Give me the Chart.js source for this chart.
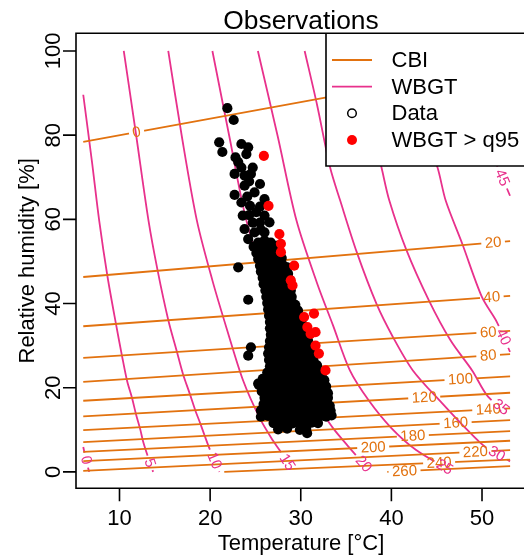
<!DOCTYPE html>
<html>
<head>
<meta charset="utf-8">
<script src="https://cdn.jsdelivr.net/npm/chart.js@4.4.0/dist/chart.umd.min.js"></script>
<style>
  html, body { margin: 0; padding: 0; background: #fff; overflow: hidden; }
</style>
</head>
<body>
<canvas id="chart" width="524" height="559"></canvas>
<script>
// ─── AXES ─────────────────────────────────────────────────────
const xTicks = [10, 20, 30, 40, 50];
const yTicks = [0, 20, 40, 60, 80, 100];

// ─── CBI CONTOURS (temperature °C, humidity %) ───────────────
const cbiLevels = [0, 20, 40, 60, 80, 100, 120, 140, 160, 180, 200, 220, 240, 260];
const cbiLines = [
    [[6.0, 78.4], [32.4, 88.8], [53.1, 96.9]],
    [[6.0, 46.3], [53.1, 54.8]],
    [[6.0, 34.6], [53.1, 41.8]],
    [[6.0, 27.1], [53.1, 33.5]],
    [[6.0, 21.4], [53.1, 28.0]],
    [[6.0, 16.9], [53.1, 22.7]],
    [[6.0, 13.2], [53.1, 18.8]],
    [[6.0, 9.9],  [53.1, 15.1]],
    [[6.0, 7.05], [53.1, 12.3]],
    [[6.0, 4.75], [53.1, 9.7]],
    [[6.0, 2.54], [53.1, 7.4]],
    [[6.0, 0.24], [53.1, 5.15]],
    [[21.56, 0],  [53.1, 2.9]],
    [[39.55, 0],  [53.1, 1.35]],
];
const cbiLabelAt = [
    [11.89, 80.6], [51.23, 54.3], [51.09, 41.26], [50.69, 32.96], [50.69, 27.27],
    [47.63, 21.9], [43.63, 17.4], [50.69, 14.8], [47.09, 11.6], [42.37, 8.47],
    [38.0, 5.55], [49.27, 4.74], [45.27, 2.13], [41.45, 0.19],
];

// ─── WBGT CONTOURS ────────────────────────────────────────────
const wbgtLevels = [0, 5, 10, 15, 20, 25, 30, 35, 40, 45];
const wbgtLines = [
    [[6.0, 5.9], [6.3, 3.0], [6.65, 0]],
    [[6.0, 89.6], [6.95, 73.9], [7.76, 59.7], [8.66, 46.6], [9.64, 34.8], [10.29, 27.4], [10.84, 21.6],
     [11.39, 17.5], [11.82, 13.7], [12.29, 10.1], [12.59, 7.35], [13.02, 4.36], [13.71, 0]],
    [[10.47, 100], [11.85, 79.8], [13.2, 59.7], [14.22, 47.7], [15.38, 36.1], [16.29, 28.9], [17.01, 23.2],
     [17.75, 18.6], [18.37, 14.6], [18.95, 11.3], [19.38, 8.7], [20.0, 5.15], [21.02, 0]],
    [[15.38, 100], [16.87, 79.8], [18.54, 59.7], [20.25, 45.5], [21.89, 33.6], [23.64, 21.7], [25.49, 12.7],
     [26.91, 7.5], [27.75, 4.9], [29.2, 0]],
    [[20.25, 100], [22.11, 79.8], [24.0, 59.7], [26.36, 43.1], [28.11, 32.4], [29.96, 21.7], [31.82, 15.8],
     [33.56, 10.4], [35.31, 5.9], [37.71, 0]],
    [[25.27, 100], [27.45, 79.8], [29.53, 59.7], [31.82, 44.7], [33.56, 34.8], [35.42, 24.1], [37.49, 17.0],
     [40.0, 10.4], [42.73, 5.2], [46.76, 0]],
    [[30.43, 100], [31.82, 87.0], [33.24, 72.3], [34.36, 64.4], [36.18, 52.2], [38.36, 39.9], [40.18, 32.0],
     [42.37, 24.1], [45.64, 16.2], [48.18, 10.4], [50.36, 5.9], [53.09, 2.5]],
    [[35.64, 100], [37.27, 87.0], [38.91, 72.3], [39.78, 64.4], [41.64, 52.8], [44.15, 40.7], [46.54, 31.2],
     [48.91, 24.1], [50.69, 17.8], [53.09, 13.7]],
    [[40.54, 100], [42.73, 87.0], [45.09, 72.3], [46.0, 64.4], [47.82, 54.2], [50.0, 41.5], [51.64, 35.6],
     [53.09, 28.5]],
    [[45.45, 100], [48.18, 88.1], [50.9, 76.3], [52.0, 71.1], [53.09, 65.6]],
];
const wbgtLabelAt = [
    [6.35, 2.8], [13.3, 2.1], [20.5, 2.7], [28.4, 2.1], [36.8, 1.6],
    [45.9, 1.2], [51.63, 4.36], [52.0, 15.1], [52.2, 31.9], [52.33, 70.0],
];

// ─── OBSERVATIONS (temperature °C, humidity %) ───────────────
const obsPoints = [
    [21.9, 86.4], [22.6, 83.6], [21.0, 78.3], [21.35, 76.0], [23.45, 77.9], [24.2, 77.1], [24.0, 75.5],
    [22.8, 74.7], [23.1, 73.6], [23.45, 72.3], [24.7, 72.3], [22.7, 70.8], [23.8, 70.4], [24.5, 70.8],
    [24.3, 69.0], [25.5, 68.4], [23.8, 68.0], [22.7, 65.8], [24.9, 66.4], [24.1, 65.4], [26.0, 64.8],
    [23.45, 64.0], [24.4, 63.2], [25.5, 63.0], [23.6, 60.9], [24.3, 61.0], [25.1, 61.7], [26.0, 60.9],
    [24.7, 59.2], [25.5, 59.2], [26.55, 59.3], [23.8, 57.7], [24.9, 56.9], [25.6, 57.5], [26.0, 56.9],
    [24.2, 55.3], [25.3, 54.5], [26.0, 55.0], [26.7, 54.5],
    [24.8, 53.5], [25.5, 53.3], [26.2, 53.6], [26.9, 53.4], [27.3, 53.7],
    [25.1, 52.0], [25.8, 52.2], [26.5, 51.9], [27.2, 52.1],
    [25.3, 50.6], [26.0, 50.4], [26.7, 50.7], [27.4, 50.5], [27.9, 50.8],
    [25.5, 49.0], [26.2, 49.2], [26.9, 48.9], [27.6, 49.1], [28.1, 49.0], [28.5, 48.6],
    [25.6, 47.6], [26.3, 47.4], [27.0, 47.7], [27.7, 47.5], [28.3, 47.6], [28.6, 47.1],
    [25.8, 46.1], [26.5, 46.3], [27.2, 46.0], [27.9, 46.2], [28.5, 46.1], [28.8, 45.6],
    [25.9, 44.6], [26.6, 44.4], [27.3, 44.7], [28.0, 44.5], [28.7, 44.6],
    [26.1, 43.1], [26.8, 43.3], [27.5, 43.0], [28.2, 43.2], [28.9, 43.1],
    [26.2, 41.6], [26.9, 41.4], [27.6, 41.7], [28.3, 41.5], [29.0, 41.6],
    [26.3, 40.1], [27.0, 40.3], [27.7, 40.0], [28.4, 40.2], [29.1, 40.1], [29.4, 39.7],
    [26.4, 38.6], [27.1, 38.4], [27.8, 38.7], [28.5, 38.5], [29.2, 38.6], [29.7, 38.3],
    [26.5, 37.1], [27.2, 37.3], [27.9, 37.0], [28.6, 37.2], [29.3, 37.1], [29.9, 36.8],
    [26.6, 35.6], [27.3, 35.4], [28.0, 35.7], [28.7, 35.5], [29.4, 35.6], [30.1, 35.4],
    [26.6, 34.1], [27.3, 34.3], [28.0, 34.0], [28.7, 34.2], [29.4, 34.1], [30.1, 34.0], [30.4, 33.6],
    [26.7, 32.6], [27.4, 32.4], [28.1, 32.7], [28.8, 32.5], [29.5, 32.6], [30.2, 32.4], [30.6, 32.1],
    [26.6, 31.1], [27.3, 31.3], [28.0, 31.0], [28.7, 31.2], [29.4, 31.1], [30.1, 31.0], [30.8, 31.2],
    [26.5, 29.6], [27.2, 29.4], [27.9, 29.7], [28.6, 29.5], [29.3, 29.6], [30.0, 29.4], [30.7, 29.6], [31.1, 29.3],
    [26.4, 28.1], [27.1, 28.3], [27.8, 28.0], [28.5, 28.2], [29.2, 28.1], [29.9, 28.0], [30.6, 28.2], [31.2, 27.9],
    [26.5, 26.6], [27.2, 26.4], [27.9, 26.7], [28.6, 26.5], [29.3, 26.6], [30.0, 26.4], [30.7, 26.6], [31.4, 26.5],
    [26.6, 25.1], [27.3, 25.3], [28.0, 25.0], [28.7, 25.2], [29.4, 25.1], [30.1, 25.0], [30.8, 25.2],
    [31.5, 25.0], [31.8, 25.3],
    [26.3, 23.6], [27.0, 23.4], [27.7, 23.7], [28.4, 23.5], [29.1, 23.6], [29.8, 23.4], [30.5, 23.7],
    [31.2, 23.5], [31.9, 23.6], [32.3, 23.2],
    [25.8, 22.1], [26.5, 22.3], [27.2, 22.0], [27.9, 22.2], [28.6, 22.1], [29.3, 22.0], [30.0, 22.2],
    [30.7, 22.1], [31.4, 22.0], [32.1, 22.2], [32.6, 21.8],
    [25.4, 20.6], [26.1, 20.4], [26.8, 20.7], [27.5, 20.5], [28.2, 20.6], [28.9, 20.4], [29.6, 20.7],
    [30.3, 20.5], [31.0, 20.6], [31.7, 20.4], [32.4, 20.6], [32.8, 20.3],
    [25.7, 19.1], [26.4, 19.3], [27.1, 19.0], [27.8, 19.2], [28.5, 19.1], [29.2, 19.0], [29.9, 19.2],
    [30.6, 19.1], [31.3, 19.0], [32.0, 19.2], [32.7, 19.1], [33.0, 18.7],
    [26.0, 17.6], [26.7, 17.4], [27.4, 17.7], [28.1, 17.5], [28.8, 17.6], [29.5, 17.4], [30.2, 17.7],
    [30.9, 17.5], [31.6, 17.6], [32.3, 17.4], [33.0, 17.6],
    [25.9, 16.1], [26.6, 16.3], [27.3, 16.0], [28.0, 16.2], [28.7, 16.1], [29.4, 16.0], [30.1, 16.2],
    [30.8, 16.1], [31.5, 16.0], [32.2, 16.2], [32.9, 16.1], [33.2, 15.7],
    [25.6, 14.6], [26.3, 14.4], [27.0, 14.7], [27.7, 14.5], [28.4, 14.6], [29.1, 14.4], [29.8, 14.7],
    [30.5, 14.5], [31.2, 14.6], [31.9, 14.4], [32.6, 14.6], [33.3, 14.5],
    [25.6, 13.1], [26.4, 13.3], [27.2, 13.0], [27.9, 13.2], [28.6, 13.1], [29.3, 13.0], [30.0, 13.2],
    [30.7, 13.1], [31.4, 13.0], [32.1, 13.2], [32.8, 13.1], [33.4, 13.4],
    [27.0, 11.6], [27.7, 11.4], [28.4, 11.7], [29.1, 11.5], [29.8, 11.6], [30.5, 11.4], [31.2, 11.7], [31.9, 11.6],
    [27.5, 10.1], [28.5, 10.3], [29.9, 10.0], [30.6, 10.2], [30.7, 9.2],
    [23.1, 48.6], [24.2, 40.9], [24.5, 29.6], [24.2, 27.6], [25.3, 21.0],
];
const hotPoints = [
    [25.93, 75.1], [26.44, 63.2], [27.64, 56.5], [27.81, 54.2], [27.81, 52.2], [29.27, 49.0],
    [28.9, 45.5], [29.09, 44.3], [30.37, 36.8], [31.46, 37.6], [30.73, 34.4], [31.63, 33.2],
    [31.09, 32.8], [31.63, 30.0], [32.0, 28.1], [32.73, 24.1],
];

// ─── STYLE ────────────────────────────────────────────────────
const CBI_COL = '#E2720F';
const WBGT_COL = '#E8318C';
const FONT = '"Liberation Sans", Arial, sans-serif';
const LABEL_FONT = '15px ' + FONT;

const toXY = pts => pts.map(p => ({ x: p[0], y: p[1] }));

const datasets = [
    { data: toXY(hotPoints), backgroundColor: '#ff0000', borderWidth: 0, pointRadius: 5.1, order: 0 },
    { data: toXY(obsPoints), backgroundColor: '#000000', borderWidth: 0, pointRadius: 5.1, order: 1 },
];
cbiLevels.forEach((lev, i) => datasets.push({
    data: toXY(cbiLines[i]), showLine: true, borderColor: CBI_COL, borderWidth: 1.8,
    pointRadius: 0, tension: 0, order: 2,
    labelText: String(lev), labelAt: cbiLabelAt[i], labelColor: CBI_COL,
}));
wbgtLevels.forEach((lev, i) => datasets.push({
    data: toXY(wbgtLines[i]), showLine: true, borderColor: WBGT_COL, borderWidth: 1.8,
    pointRadius: 0, tension: 0.3, order: 3,
    labelText: String(lev), labelAt: wbgtLabelAt[i], labelColor: WBGT_COL,
}));

// label placed on the nearest point of its own contour, rotated along it
function labelGeom(chart, ds) {
    const xs = chart.scales.x, ys = chart.scales.y;
    const lx = xs.getPixelForValue(ds.labelAt[0]), ly = ys.getPixelForValue(ds.labelAt[1]);
    const px = ds.data.map(p => [xs.getPixelForValue(p.x), ys.getPixelForValue(p.y)]);
    let best = Infinity, ang = 0, cx = lx, cy = ly;
    for (let i = 0; i < px.length - 1; i++) {
        const [x1, y1] = px[i], [x2, y2] = px[i + 1];
        const dx = x2 - x1, dy = y2 - y1;
        let t = ((lx - x1) * dx + (ly - y1) * dy) / (dx * dx + dy * dy);
        t = Math.max(0, Math.min(1, t));
        const qx = x1 + t * dx, qy = y1 + t * dy;
        const d = Math.hypot(qx - lx, qy - ly);
        if (d < best) { best = d; ang = Math.atan2(dy, dx); cx = qx; cy = qy; }
    }
    if (ang > Math.PI / 2) ang -= Math.PI;
    if (ang < -Math.PI / 2) ang += Math.PI;
    const ctx = chart.ctx;
    ctx.save();
    ctx.font = LABEL_FONT;
    const w = ctx.measureText(ds.labelText).width;
    ctx.restore();
    return { x: cx, y: cy, ang, w, h: 12 };
}

const contourLabels = {
    id: 'contourLabels',
    beforeDatasetDraw(chart, args) {
        const ds = chart.data.datasets[args.index];
        if (!ds.labelText) return;
        const g = labelGeom(chart, ds);
        const ctx = chart.ctx;
        const hw = g.w / 2 + 3.5, hh = g.h / 2;
        const c = Math.cos(g.ang), s = Math.sin(g.ang);
        ctx.save();
        ctx.beginPath();
        ctx.rect(0, 0, chart.width, chart.height);
        [[-hw, -hh], [hw, -hh], [hw, hh], [-hw, hh]].forEach(([u, v], i) => {
            const X = g.x + u * c - v * s, Y = g.y + u * s + v * c;
            if (i) ctx.lineTo(X, Y); else ctx.moveTo(X, Y);
        });
        ctx.closePath();
        ctx.clip('evenodd');
    },
    afterDatasetDraw(chart, args) {
        const ds = chart.data.datasets[args.index];
        if (!ds.labelText) return;
        chart.ctx.restore();
    },
    afterDatasetsDraw(chart) {
        const ctx = chart.ctx;
        chart.data.datasets.forEach(ds => {
            if (!ds.labelText) return;
            const g = labelGeom(chart, ds);
            ctx.save();
            ctx.translate(g.x, g.y);
            ctx.rotate(g.ang);
            ctx.font = LABEL_FONT;
            ctx.fillStyle = ds.labelColor;
            ctx.textAlign = 'center';
            ctx.textBaseline = 'middle';
            ctx.fillText(ds.labelText, 0, 0.5);
            ctx.restore();
        });
    },
};

// ─── FRAME, AXES, TITLES, LEGEND ─────────────────────────────
const frame = {
    id: 'frame',
    afterDraw(chart) {
        const ctx = chart.ctx, a = chart.chartArea;
        const xs = chart.scales.x, ys = chart.scales.y;
        ctx.save();
        ctx.strokeStyle = '#000';
        ctx.fillStyle = '#000';
        ctx.lineWidth = 1.6;

        // legend box
        const lx = 326, ly = a.top, lb = 166;
        ctx.fillStyle = '#fff';
        ctx.fillRect(lx, ly, chart.width - lx + 5, lb - ly);
        ctx.beginPath();
        ctx.moveTo(chart.width + 5, lb); ctx.lineTo(lx, lb); ctx.lineTo(lx, ly);
        ctx.stroke();

        // box (right side lies outside the picture)
        ctx.beginPath();
        ctx.moveTo(chart.width + 5, a.top); ctx.lineTo(a.left, a.top);
        ctx.lineTo(a.left, a.bottom); ctx.lineTo(chart.width + 5, a.bottom);
        ctx.stroke();

        // ticks
        ctx.beginPath();
        xTicks.forEach(v => { const p = xs.getPixelForValue(v); ctx.moveTo(p, a.bottom); ctx.lineTo(p, a.bottom + 13); });
        yTicks.forEach(v => { const p = ys.getPixelForValue(v); ctx.moveTo(a.left, p); ctx.lineTo(a.left - 13, p); });
        ctx.stroke();

        ctx.fillStyle = '#000';
        ctx.font = '22px ' + FONT;
        ctx.textAlign = 'center';
        ctx.textBaseline = 'alphabetic';
        xTicks.forEach(v => ctx.fillText(String(v), xs.getPixelForValue(v), 524.5));
        yTicks.forEach(v => {
            ctx.save();
            ctx.translate(60, ys.getPixelForValue(v));
            ctx.rotate(-Math.PI / 2);
            ctx.fillText(String(v), 0, 0);
            ctx.restore();
        });

        ctx.fillText('Temperature [°C]', 301, 550);
        ctx.save();
        ctx.translate(34, (a.top + a.bottom) / 2);
        ctx.rotate(-Math.PI / 2);
        ctx.fillText('Relative humidity [%]', 0, 0);
        ctx.restore();

        ctx.font = '26.4px ' + FONT;
        ctx.fillText('Observations', 301, 29);

        // legend entries
        ctx.font = '22px ' + FONT;
        ctx.textAlign = 'left';
        ctx.textBaseline = 'middle';
        const rows = [60, 86.7, 113.3, 140];
        ctx.lineWidth = 1.8;
        ctx.strokeStyle = CBI_COL;
        ctx.beginPath(); ctx.moveTo(332, rows[0]); ctx.lineTo(372, rows[0]); ctx.stroke();
        ctx.strokeStyle = WBGT_COL;
        ctx.beginPath(); ctx.moveTo(332, rows[1]); ctx.lineTo(372, rows[1]); ctx.stroke();
        ctx.lineWidth = 1.5;
        ctx.strokeStyle = '#000';
        ctx.beginPath(); ctx.arc(352, rows[2], 4.3, 0, Math.PI * 2); ctx.stroke();
        ctx.fillStyle = '#ff0000';
        ctx.beginPath(); ctx.arc(352, rows[3], 5, 0, Math.PI * 2); ctx.fill();
        ctx.fillStyle = '#000';
        ['CBI', 'WBGT', 'Data', 'WBGT > q95'].forEach((t, i) => ctx.fillText(t, 391.5, rows[i] + 1));
        ctx.restore();
    },
};

new Chart(document.getElementById('chart'), {
    type: 'scatter',
    data: { datasets },
    options: {
        responsive: false,
        animation: false,
        devicePixelRatio: 1,
        events: [],
        layout: { padding: { left: 76, top: 33.3, right: 0, bottom: 70.7 } },
        scales: {
            x: { type: 'linear', min: 5.2, max: 54.07, display: false },
            y: { type: 'linear', min: -3.9, max: 104.2, display: false },
        },
        plugins: { legend: { display: false }, tooltip: { enabled: false } },
    },
    plugins: [contourLabels, frame],
});
</script>
</body>
</html>
